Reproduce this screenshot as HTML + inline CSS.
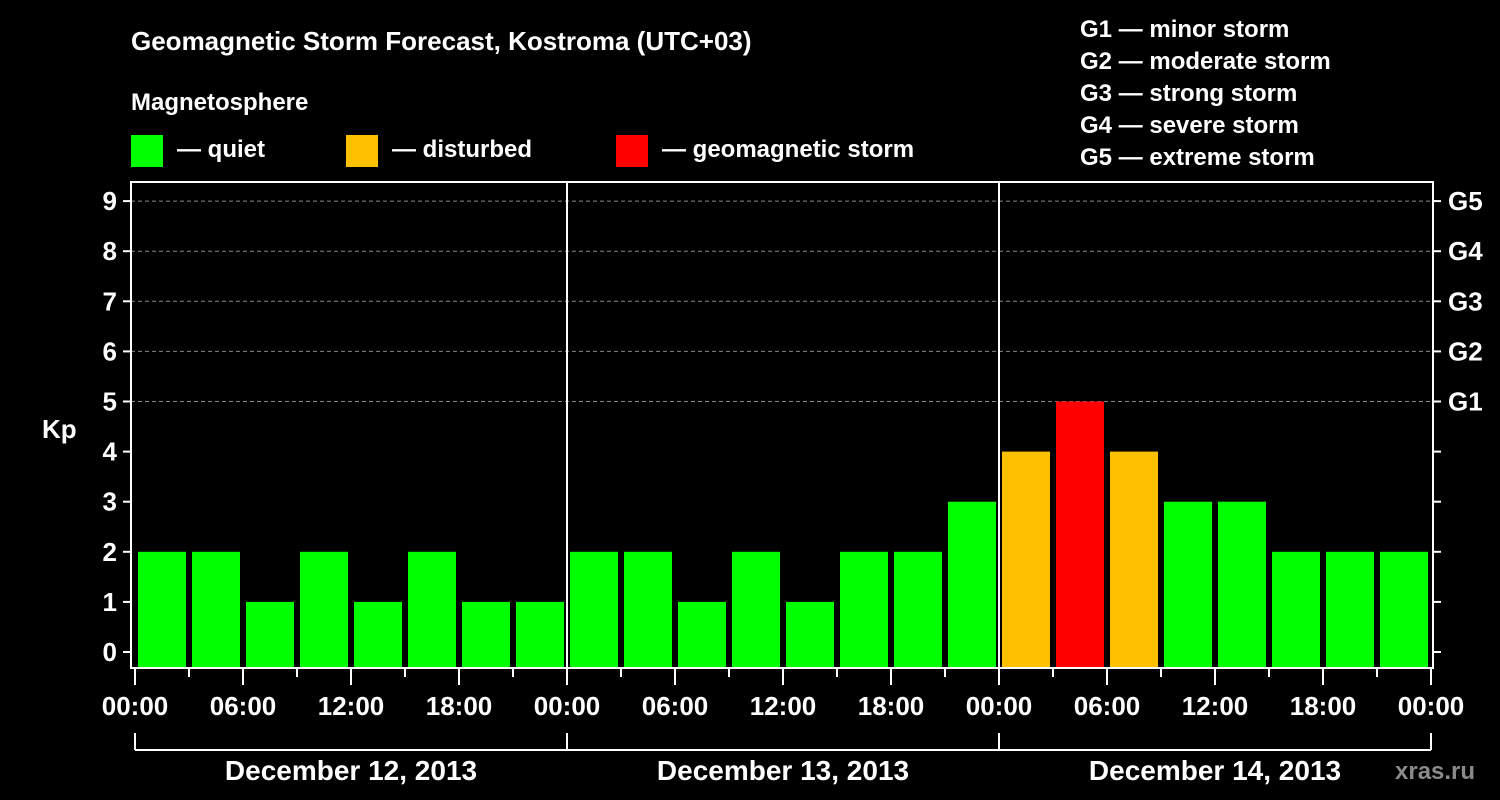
<!DOCTYPE html>
<html><head><meta charset="utf-8"><style>
html,body{margin:0;padding:0;background:#000;width:1500px;height:800px;overflow:hidden}
svg text{font-family:"Liberation Sans",Arial,sans-serif;font-weight:bold;fill:#fff}
</style></head><body>
<svg id="chart" width="1500" height="800" xmlns="http://www.w3.org/2000/svg">
<text x="131" y="50" font-size="26">Geomagnetic Storm Forecast, Kostroma (UTC+03)</text>
<text x="131" y="110" font-size="24">Magnetosphere</text>
<g><rect x="131" y="135" width="32" height="32" fill="#00ff00"/><text x="177" y="157" font-size="24">— quiet</text></g>
<g><rect x="346" y="135" width="32" height="32" fill="#ffc000"/><text x="392" y="157" font-size="24">— disturbed</text></g>
<g><rect x="616" y="135" width="32" height="32" fill="#ff0000"/><text x="662" y="157" font-size="24">— geomagnetic storm</text></g>
<g font-size="24">
<text x="1080" y="37">G1 — minor storm</text>
<text x="1080" y="69">G2 — moderate storm</text>
<text x="1080" y="101">G3 — strong storm</text>
<text x="1080" y="133">G4 — severe storm</text>
<text x="1080" y="165">G5 — extreme storm</text>
</g>
<text x="42" y="438" font-size="26">Kp</text>
<g id="grid"></g><g id="bars"></g><g id="axes"></g>
<text x="1395" y="779" font-size="24" fill="#888" style="fill:#8a8a8a">xras.ru</text>
</svg>
<script>
const days = ["December 12, 2013","December 13, 2013","December 14, 2013"];
const kpValues = [2,2,1,2,1,2,1,1, 2,2,1,2,1,2,2,3, 4,5,4,3,3,2,2,2];
const yTicks = [0,1,2,3,4,5,6,7,8,9];
const gLabels = ["G1","G2","G3","G4","G5"];
const timeLabels = ["00:00","06:00","12:00","18:00"];

const NS="http://www.w3.org/2000/svg";
const L=131,R=1433,T=182,B=668,X0=135,DAYW=432;
const slotW=DAYW/8;
const y=v=>652-v*50.1;
const x=h=>X0+h*(DAYW/24);
function mk(tag,attrs,parent){const e=document.createElementNS(NS,tag);for(const k in attrs)e.setAttribute(k,attrs[k]);parent.appendChild(e);return e;}
const grid=document.getElementById('grid'),bars=document.getElementById('bars'),axes=document.getElementById('axes');
yTicks.forEach(v=>{if(v>=5){const l=mk('line',{x1:L,x2:R,y1:y(v),y2:y(v),stroke:'#888','stroke-dasharray':'4,3','stroke-width':1},grid);

}});
kpValues.forEach((v,i)=>{const c=v>=5?'#ff0000':(v>=4?'#ffc000':'#00ff00');
const r=mk('rect',{x:x(i*3)+3,y:y(v),width:slotW-6,height:B-y(v),fill:c},bars);

});
const frame=mk('rect',{x:L,y:T,width:R-L,height:B-T,fill:'none',stroke:'#fff','stroke-width':2},axes);


for(let d=1;d<days.length;d++){const l=mk('line',{x1:x(d*24),x2:x(d*24),y1:T,y2:B,stroke:'#fff','stroke-width':2},axes);

}
yTicks.forEach(v=>{mk('line',{x1:L-8,x2:L,y1:y(v),y2:y(v),stroke:'#fff','stroke-width':2},axes);
mk('line',{x1:R,x2:R+8,y1:y(v),y2:y(v),stroke:'#fff','stroke-width':2},axes);
const t=mk('text',{x:L-14,y:y(v)+9,'font-size':26,'text-anchor':'end'},axes);t.textContent=v;

});
gLabels.forEach((g,i)=>{const t=mk('text',{x:1448,y:y(5+i)+9,'font-size':26},axes);t.textContent=g;

});
for(let h=0;h<=days.length*24;h+=3){const major=h%6===0;
mk('line',{x1:x(h),x2:x(h),y1:B,y2:B+(major?17:9),stroke:'#fff','stroke-width':2},axes);
if(major){const lab=h===days.length*24?timeLabels[0]:timeLabels[(h%24)/6];
const t=mk('text',{x:x(h),y:715,'font-size':26,'text-anchor':'middle'},axes);t.textContent=lab;

}}
mk('line',{x1:x(0),x2:x(days.length*24),y1:750,y2:750,stroke:'#fff','stroke-width':2},axes);
for(let d=0;d<=days.length;d++)mk('line',{x1:x(d*24),x2:x(d*24),y1:733,y2:750,stroke:'#fff','stroke-width':2},axes);
days.forEach((dname,d)=>{const t=mk('text',{x:x(d*24+12),y:780,'font-size':28,'text-anchor':'middle'},axes);t.textContent=dname;

});
</script>
</body></html>
